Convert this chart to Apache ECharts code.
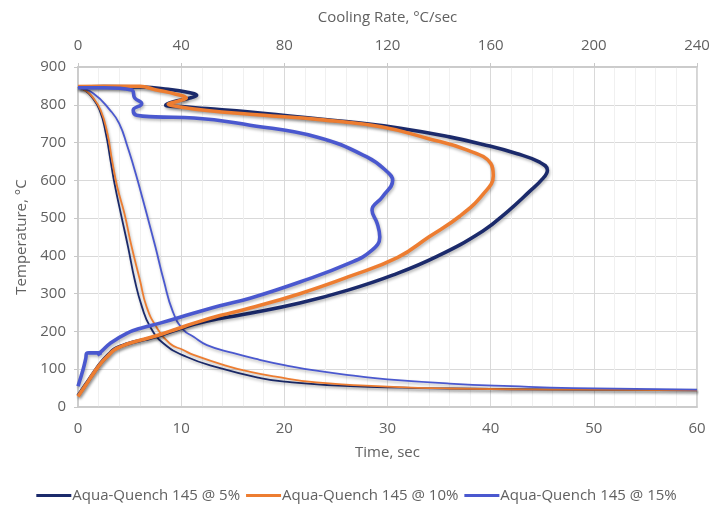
<!DOCTYPE html>
<html>
<head>
<meta charset="utf-8">
<script src="https://cdn.jsdelivr.net/npm/echarts@6/dist/echarts.min.js"></script>
<style>
html,body{margin:0;padding:0;background:#fff;}
#chart{width:713px;height:509px;}
</style>
</head>
<body>
<div id="chart"></div>
<script>
// Series names
const seriesNames = ['Aqua-Quench 145 @ 5%', 'Aqua-Quench 145 @ 10%', 'Aqua-Quench 145 @ 15%'];

// Cooling curves: [time (s), temperature (°C)]
const cool5 = [[0,847],[0.7,838],[1.3,822],[2.1,786],[2.7,724],[3.15,653],[3.55,590],[4.15,512],[4.85,424],[5.5,336],[6.2,265],[7.0,212],[8.3,168],[10.5,133],[13.6,104],[17.6,77],[20,67],[26.4,55],[36,49],[48,46],[60,44]];
const cool10 = [[0,847],[0.7,838],[1.4,821],[2.2,785],[2.85,724],[3.3,653],[3.8,583],[4.5,512],[5.2,424],[6.0,336],[6.65,265],[7.6,212],[8.9,168],[10.2,151],[11.2,138],[14.4,109],[16.7,93],[19,81],[23.1,65],[30,54],[36,49],[48,46],[60,44]];
const cool15 = [[0,847],[1.5,830],[3.1,786],[4.0,750],[4.8,689],[5.4,636],[5.95,583],[6.65,512],[7.5,424],[8.3,336],[9.2,252],[10.2,205],[11.2,186],[12.5,164],[15,143],[17.6,125],[20,111],[23.1,96],[27.3,81],[30,73],[36,62],[42,55],[48,50],[60,46]];

// Cooling-rate curves: [cooling rate (°C/s), temperature (°C)]
const rate5 = [[0,30],[3,60],[6,90],[9,118],[12,140],[14,153],[17,162],[20,169],[26,179],[32,190],[38,204],[45,219],[55,234],[66.7,248],[86,275],[105,310],[122,349],[139,398],[157,466],[167,520],[175,570],[180,603],[182,627],[179,648],[170,671],[157,695],[144,715],[125,738],[105,755],[85,768],[66.7,781],[50,790],[40,795],[34,799],[37,808],[43,817],[46,825],[42,834],[35,841],[25,847],[10,848],[0,847]];
const rate10 = [[0,28],[3,58],[6,89],[9,117],[12,138],[14,151],[17,161],[20,169],[26,180],[32,192],[38,206],[45,222],[55,242],[66.7,262],[86,300],[105,345],[124,396],[136,450],[148,505],[157,563],[161,612],[160,645],[151,680],[135,712],[118,741],[95,760],[66.7,775],[50,785],[39,795],[35,802],[39,810],[42,818],[38,828],[30,840],[24,849],[10,849],[0,848]];
const rate15 = [[0,55],[2,100],[3,128],[3.5,143],[9,144],[7.5,138],[9.5,150],[12.4,168],[18.9,195],[25,210],[31.8,222],[44.7,248],[55,268],[66.7,288],[86,331],[105,380],[114,415],[117,450],[116,486],[114,521],[118,556],[122,600],[120,622],[112,662],[92.5,715],[66.7,746],[45,765],[30,768],[22.7,772],[21.4,786],[24.7,803],[22,818],[20.8,839],[10,845],[0,845]];

const colors = ['#1B2A6B', '#ED7D31', '#4A58CF'];
const txt = '#616161';
const font = 'Open Sans';

const shadow = {shadowColor:'rgba(0,0,0,0.28)', shadowBlur:3, shadowOffsetX:1, shadowOffsetY:2};

function thin(i, data){
  return {name: seriesNames[i], type:'line', xAxisIndex:0, data:data, showSymbol:false, symbol:'none',
    smooth:0.5, color:colors[i], lineStyle:Object.assign({width:1.8, color:colors[i]}, shadow), z:2};
}
function thick(i, data){
  return {name: seriesNames[i], type:'line', xAxisIndex:1, data:data, showSymbol:false, symbol:'none',
    smooth:0.45, color:colors[i], lineStyle:Object.assign({width:3.6, color:colors[i]}, shadow), z:3};
}

const chart = echarts.init(document.getElementById('chart'), null, {renderer:'canvas'});
chart.setOption({
  animation:false,
  backgroundColor:'#ffffff',
  textStyle:{fontFamily:font},
  grid:{left:78, right:16, top:67, bottom:102, show:true, borderColor:'#c8c8c8', borderWidth:1.5, containLabel:false},
  legend:{
    data: seriesNames, left:'center', top:483, itemWidth:35, itemHeight:3, itemGap:6, icon:'rect',
    textStyle:{color:txt, fontSize:15, fontFamily:font, padding:[0,0,0,-4]}
  },
  xAxis:[
    {type:'value', position:'bottom', min:0, max:60, interval:10,
     name:'Time, sec', nameLocation:'middle', nameGap:38,
     nameTextStyle:{color:txt, fontSize:15, fontFamily:font},
     axisLine:{show:true, lineStyle:{color:'#c8c8c8', width:1.5}},
     axisTick:{show:false},
     axisLabel:{color:txt, fontSize:15, margin:14, fontFamily:font},
     splitLine:{show:true, lineStyle:{color:'#d9d9d9', width:1}},
     minorTick:{show:false, splitNumber:5},
     minorSplitLine:{show:true, lineStyle:{color:'#f0f0f0', width:1}}
    },
    {type:'value', position:'top', min:0, max:240, interval:40,
     name:'Cooling Rate, °C/sec', nameLocation:'middle', nameGap:42,
     nameTextStyle:{color:txt, fontSize:15, fontFamily:font},
     axisLine:{show:true, lineStyle:{color:'#c8c8c8', width:1.5}},
     axisTick:{show:true, length:4, lineStyle:{color:'#c8c8c8'}},
     axisLabel:{color:txt, fontSize:15, margin:14, fontFamily:font},
     splitLine:{show:false}
    }
  ],
  yAxis:{type:'value', min:0, max:900, interval:100,
    name:'Temperature, °C', nameLocation:'middle', nameGap:48, nameRotate:90,
    nameTextStyle:{color:txt, fontSize:15, fontFamily:font},
    axisLine:{show:true, lineStyle:{color:'#c8c8c8', width:1.5}},
    axisTick:{show:true, length:4, lineStyle:{color:'#c8c8c8'}},
    axisLabel:{color:txt, fontSize:15, margin:12, fontFamily:font},
    splitLine:{show:true, lineStyle:{color:'#d9d9d9', width:1}}
  },
  series:[
    thin(0, cool5), thin(1, cool10), thin(2, cool15),
    thick(0, rate5), thick(1, rate10), thick(2, rate15)
  ]
});
</script>
</body>
</html>
